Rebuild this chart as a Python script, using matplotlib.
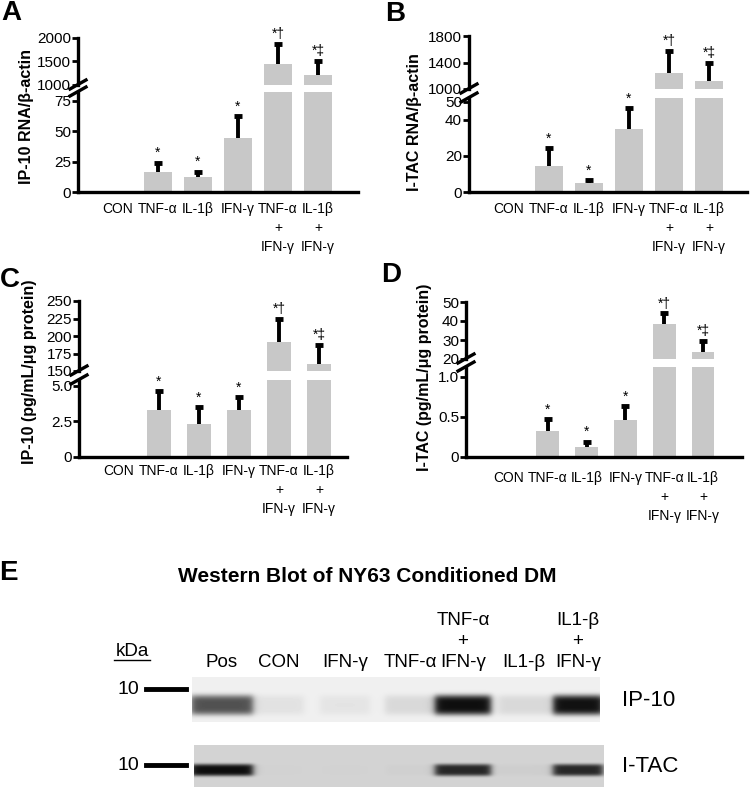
import numpy as np
import matplotlib.pyplot as plt
from matplotlib.lines import Line2D

plt.rcParams['font.family'] = ['Liberation Sans', 'DejaVu Sans']

W, H = 750, 787

groups = ["CON", "TNF-α", "IL-1β", "IFN-γ", "TNF-α\n+\nIFN-γ", "IL-1β\n+\nIFN-γ"]
marks = ["", "*", "*", "*", "*†", "*‡"]

# A: IP-10 mRNA
a_mean = [0, 16, 12.7, 44, 1440, 1213]
a_err = [0, 8, 4.1, 18, 432, 304]
# B: I-TAC mRNA
b_mean = [0, 14.5, 4.8, 34.8, 1246, 1121]
b_err = [0, 9.7, 1.7, 11.5, 328, 276]
# C: IP-10 protein
c_mean = [0, 3.3, 2.3, 3.3, 191, 160]
c_err = [0, 1.3, 1.2, 0.9, 34, 27]
# D: I-TAC protein
d_mean = [0, 0.32, 0.12, 0.46, 38.3, 23.8]
d_err = [0, 0.15, 0.07, 0.17, 5.7, 5.8]

# E: western blot
lanes = ["Pos", "CON", "IFN-γ", "TNF-α", "TNF-α\n+\nIFN-γ", "IL1-β", "IL1-β\n+\nIFN-γ"]
ip10_band = [0.68, 0.06, 0.05, 0.1, 0.97, 0.1, 0.96]
itac_band = [0.97, 0.01, 0.01, 0.02, 0.85, 0.03, 0.85]

bar_c = '#c8c8c8'


def rect(l, t, r, b):
    return [l / W, 1 - b / H, (r - l) / W, (b - t) / H]


def style(ax, lower):
    for s in ['top', 'right']:
        ax.spines[s].set_visible(False)
    ax.spines['left'].set_linewidth(2.4)
    ax.spines['bottom'].set_linewidth(2.4)
    if not lower:
        ax.spines['bottom'].set_visible(False)
        ax.set_xticks([])
    ax.tick_params(axis='y', length=4, width=2, labelsize=11, pad=1)
    ax.patch.set_alpha(0)


def panel(box, xlim, lo_lim, hi_lim, lo_ticks, hi_ticks, mean, err, width,
          ylabel, ylab_xy, letter, letter_xy, xpad):
    left, right, hi_top, hi_bot, lo_top, bottom = box
    x = np.arange(len(groups))
    lo = fig.add_axes(rect(left, lo_top, right, bottom))
    hi = fig.add_axes(rect(left, hi_top, right, hi_bot))
    for ax, lim, ticks in [(lo, lo_lim, lo_ticks), (hi, hi_lim, hi_ticks)]:
        ax.bar(x, mean, width, color=bar_c, zorder=1)
        ax.set_xlim(*xlim)
        ax.set_ylim(*lim)
        ax.set_yticks(ticks)
        ax.set_yticklabels([str(t) for t in ticks])
        style(ax, ax is lo)
    lo.set_xticks(x)
    lo.set_xticklabels(groups, fontsize=10, linespacing=1.45)
    lo.tick_params(axis='x', length=0, pad=xpad)
    for i in x:
        if err[i] == 0:
            continue
        ax = lo if mean[i] < lo_lim[1] else hi
        top = mean[i] + err[i]
        # only the upper half of the error bar is drawn
        ax.vlines(x[i], mean[i], top, color='black', lw=2.8, zorder=2)
        ax.plot(x[i], top, marker='_', ms=6, mew=3.5, color='black', zorder=2)
        ax.annotate(marks[i], (x[i], top), xytext=(0, 2),
                    textcoords='offset points', ha='center', va='bottom',
                    fontsize=10, annotation_clip=False)
    # axis break marks
    for yc in (hi_bot, lo_top):
        fig.add_artist(Line2D([(left - 8) / W, (left + 8) / W],
                              [1 - (yc + 4) / H, 1 - (yc - 5) / H],
                              color='black', lw=2.4))
    fig.text(ylab_xy[0] / W, 1 - ylab_xy[1] / H, ylabel, rotation=90, ha='center',
             va='center', fontsize=11.5, fontweight='bold')
    fig.text(letter_xy[0] / W, 1 - letter_xy[1] / H, letter, ha='center', va='center',
             fontsize=20, fontweight='bold')


fig = plt.figure(figsize=(W / 100, H / 100), dpi=100)

panel((78, 358, 38, 85, 92, 192), (-1, 6), (0, 82), (1000, 2000),
      [0, 25, 50, 75], [1000, 1500, 2000], a_mean, a_err, 0.68,
      "IP-10 RNA/β-actin", (26, 116), "A", (11, 13), 7)
panel((469, 747, 36, 89, 98, 192), (-1, 5.95), (0, 52), (1000, 1800),
      [0, 20, 40, 50], [1000, 1400, 1800], b_mean, b_err, 0.68,
      "I-TAC RNA/β-actin", (414, 122), "B", (395, 14), 7)
panel((79, 347, 301, 371, 380, 457), (-1, 5.7), (0, 5.4), (150, 250),
      [0, 2.5, 5.0], [150, 175, 200, 225, 250], c_mean, c_err, 0.6,
      "IP-10 (pg/mL/μg protein)", (30, 372), "C", (10, 280), 5)
panel((466, 742, 302, 359, 367, 457), (-1.1, 6.0), (0, 1.12), (20, 50),
      [0, 0.5, 1.0], [20, 30, 40, 50], d_mean, d_err, 0.58,
      "I-TAC (pg/mL/μg protein)", (424, 377), "D", (391, 275), 10)

# ---- panel E: western blot ----
axe = fig.add_axes(rect(0, 540, 750, 787))
axe.set_xlim(0, W)
axe.set_ylim(787, 540)
axe.axis('off')

lane_x = [222, 279, 345, 410, 463, 524, 578]
band_w = [62, 50, 50, 50, 56, 50, 50]


def strip(x0, x1, y0, y1, bg, dark, yc, h):
    X, Y = np.meshgrid(np.arange(x0, x1) + 0.5, np.arange(y0, y1) + 0.5)
    img = np.full(X.shape, bg)
    for c, w, d in zip(lane_x, band_w, dark):
        hx = 1 / (1 + np.exp((np.abs(X - c) - w / 2) / 2.0))
        vy = np.exp(-((Y - yc) / (h / 2)) ** 4)
        img = img - (bg - 0.03) * d * hx * vy
    axe.imshow(img, cmap='gray', vmin=0, vmax=1, extent=(x0, x1, y1, y0),
               aspect='auto', interpolation='bilinear')


strip(192, 600, 677, 722, 0.94, ip10_band, 705, 20)
strip(194, 604, 745, 787, 0.83, itac_band, 770, 12)

axe.text(8, 573, "E", fontsize=20, fontweight='bold', ha='center', va='center')
axe.text(367, 577, "Western Blot of NY63 Conditioned DM", fontsize=15,
         fontweight='bold', ha='center', va='center')
for lx, lab in zip(lane_x, lanes):
    axe.text(lx, 667, lab, fontsize=13.5, ha='center', va='baseline', linespacing=1.3)
axe.text(132, 656, "kDa", fontsize=13.5, ha='center', va='baseline')
axe.plot([114, 150], [660, 660], color='black', lw=1)
for yc, name in [(689, "IP-10"), (765, "I-TAC")]:
    axe.text(139, yc, "10", fontsize=14, ha='right', va='center')
    axe.plot([146, 186], [yc, yc], color='black', lw=3.5)
    axe.text(622, yc + 11 if name == "IP-10" else yc + 2, name, fontsize=16,
             ha='left', va='center')

fig.savefig('out.png', dpi=100)
